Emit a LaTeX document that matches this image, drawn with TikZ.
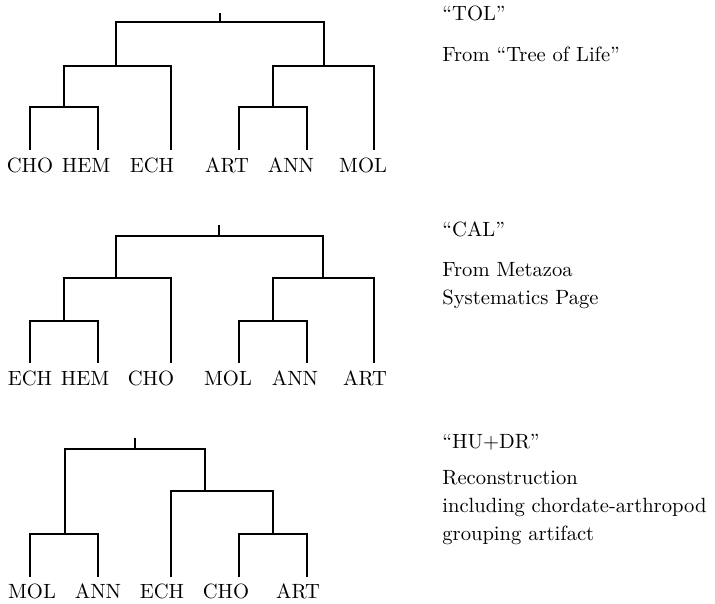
\documentclass[tikz,border=0pt]{standalone}
\begin{document}
\begin{tikzpicture}[x=0.5pt,y=-0.5pt,
  font=\fontsize{10.3}{14}\selectfont,
  branch/.style={line width=0.95pt},
  tick/.style={line width=0.7pt},
  taxon/.style={anchor=base, inner sep=0pt},
  caption/.style={anchor=base west, inner sep=0pt}]
\useasboundingbox (0,0) rectangle (715,603);

% ---------- Tree 1: TOL ----------
\coordinate (t1) at (220,13);
\coordinate (r1) at (220,22);
\coordinate (a1) at (116,66);
\coordinate (b1) at (324,66);
\coordinate (c1) at (64,107);
\coordinate (d1) at (273,107);
\coordinate (l1a) at (30,150);
\coordinate (l1b) at (98,150);
\coordinate (l1c) at (171,150);
\coordinate (l1d) at (239,150);
\coordinate (l1e) at (307,150);
\coordinate (l1f) at (374,150);
\draw[tick] (t1) -- (r1);
\draw[branch] (r1) -| (a1);
\draw[branch] (r1) -| (b1);
\draw[branch] (a1) -| (c1);
\draw[branch] (a1) -| (l1c);
\draw[branch] (c1) -| (l1a);
\draw[branch] (c1) -| (l1b);
\draw[branch] (b1) -| (d1);
\draw[branch] (b1) -| (l1f);
\draw[branch] (d1) -| (l1d);
\draw[branch] (d1) -| (l1e);
\node[taxon] (n1a) at (30,173) {CHO};
\node[taxon] (n1b) at (86,173) {HEM};
\node[taxon] (n1c) at (152,173) {ECH};
\node[taxon] (n1d) at (227,173) {ART};
\node[taxon] (n1e) at (291,173) {ANN};
\node[taxon] (n1f) at (363,173) {MOL};

% ---------- Tree 2: CAL ----------
\coordinate (t2) at (219,225);
\coordinate (r2) at (219,236);
\coordinate (a2) at (116,278);
\coordinate (b2) at (323,278);
\coordinate (c2) at (64,321);
\coordinate (d2) at (273,321);
\coordinate (l2a) at (30,363);
\coordinate (l2b) at (98,363);
\coordinate (l2c) at (171,363);
\coordinate (l2d) at (239,363);
\coordinate (l2e) at (307,363);
\coordinate (l2f) at (374,363);
\draw[tick] (t2) -- (r2);
\draw[branch] (r2) -| (a2);
\draw[branch] (r2) -| (b2);
\draw[branch] (a2) -| (c2);
\draw[branch] (a2) -| (l2c);
\draw[branch] (c2) -| (l2a);
\draw[branch] (c2) -| (l2b);
\draw[branch] (b2) -| (d2);
\draw[branch] (b2) -| (l2f);
\draw[branch] (d2) -| (l2d);
\draw[branch] (d2) -| (l2e);
\node[taxon] (n2a) at (30,385) {ECH};
\node[taxon] (n2b) at (85,385) {HEM};
\node[taxon] (n2c) at (151,385) {CHO};
\node[taxon] (n2d) at (228,385) {MOL};
\node[taxon] (n2e) at (295,385) {ANN};
\node[taxon] (n2f) at (365,385) {ART};

% ---------- Tree 3: HU+DR ----------
\coordinate (t3) at (135,438);
\coordinate (r3) at (135,449);
\coordinate (a3) at (65,534);
\coordinate (b3) at (205,491);
\coordinate (d3) at (273,534);
\coordinate (l3a) at (30,577);
\coordinate (l3b) at (98,577);
\coordinate (l3c) at (171,577);
\coordinate (l3d) at (239,577);
\coordinate (l3e) at (307,577);
\draw[tick] (t3) -- (r3);
\draw[branch] (r3) -| (a3);
\draw[branch] (r3) -| (b3);
\draw[branch] (a3) -| (l3a);
\draw[branch] (a3) -| (l3b);
\draw[branch] (b3) -| (l3c);
\draw[branch] (b3) -| (d3);
\draw[branch] (d3) -| (l3d);
\draw[branch] (d3) -| (l3e);
\node[taxon] (n3a) at (32,598) {MOL};
\node[taxon] (n3b) at (98,598) {ANN};
\node[taxon] (n3c) at (162,598) {ECH};
\node[taxon] (n3d) at (226,598) {CHO};
\node[taxon] (n3e) at (298,598) {ART};

% ---------- Captions ----------
\node[caption] (cap1) at (442,21) {``TOL''};
\node[caption] (cap1a) at (442,62) {From ``Tree of Life''};
\node[caption] (cap2) at (442,237) {``CAL''};
\node[caption] (cap2a) at (442,277) {From Metazoa};
\node[caption] (cap2b) at (442,305) {Systematics Page};
\node[caption] (cap3) at (442,448) {``HU+DR''};
\node[caption] (cap3a) at (442,484) {Reconstruction};
\node[caption] (cap3b) at (442,512) {including chordate-arthropod};
\node[caption] (cap3c) at (442,540) {grouping artifact};
\end{tikzpicture}
\end{document}
